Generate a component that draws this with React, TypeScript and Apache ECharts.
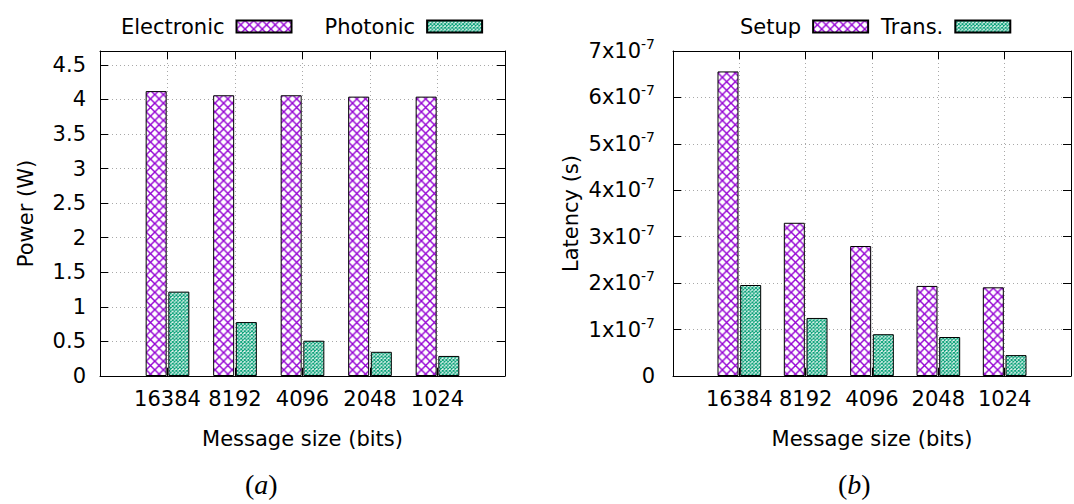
import React, { useEffect, useRef } from 'react';
import * as echarts from 'echarts';

const categories = ['16384', '8192', '4096', '2048', '1024'];
const electronicPower = [4.12, 4.06, 4.06, 4.04, 4.04];
const photonicPower = [1.22, 0.78, 0.51, 0.35, 0.29];
const setupLatency = [6.56e-7, 3.3e-7, 2.8e-7, 1.94e-7, 1.91e-7];
const transLatency = [1.96e-7, 1.25e-7, 0.9e-7, 0.84e-7, 0.45e-7];

const FONT = 'DejaVu Sans';
const PURPLE = '#9400d3';
const GREEN = '#009e73';

function hatch(size: number, color: string, w: number) {
  const svg = `<svg xmlns="http://www.w3.org/2000/svg" width="${size}" height="${size}"><rect width="${size}" height="${size}" fill="#ffffff"/><path d="M0 0L${size} ${size}M${size} 0L0 ${size}" stroke="${color}" stroke-width="${w}" fill="none"/></svg>`;
  return {
    image: 'data:image/svg+xml;charset=utf-8,' + encodeURIComponent(svg),
    repeat: 'repeat',
    imageWidth: size,
    imageHeight: size,
  };
}

const toPoints = (vals: number[]) => vals.map((v, i) => [i + 1, v]);

export default function App() {
  const ref = useRef<HTMLDivElement>(null);
  useEffect(() => {
    if (!ref.current) return;
    const chart = echarts.init(ref.current, null, { renderer: 'svg' });
    const bigPat = hatch(8.6, PURPLE, 1.4);
    const smallPat = hatch(3.6, GREEN, 1.1);

    const gridLine = { show: true, lineStyle: { color: '#a8a8a8', width: 1, type: [1, 3] } };
    const axisLine = { show: true, onZero: false, lineStyle: { color: '#000', width: 1 } };
    const tick = { show: true, inside: true, length: 8, lineStyle: { color: '#000', width: 1 } };
    const labelText = { fontSize: 21, color: '#000', fontFamily: FONT };

    const xAxisBottom = (gridIndex: number) => ({
      type: 'value', gridIndex, min: 0, max: 6, interval: 1, position: 'bottom',
      axisLine, axisTick: tick, splitLine: gridLine,
      axisLabel: { ...labelText, margin: 12, formatter: (v: number) => categories[v - 1] ?? '' },
      name: 'Message size (bits)', nameLocation: 'middle', nameGap: 52,
      nameTextStyle: labelText,
    });
    const xAxisTop = (gridIndex: number) => ({
      type: 'value', gridIndex, min: 0, max: 6, interval: 1, position: 'top',
      axisLine, axisTick: tick, splitLine: { show: false }, axisLabel: { show: false },
    });

    const legendBase = {
      top: 11, align: 'right', itemWidth: 55, itemHeight: 12, icon: 'rect',
      textStyle: { ...labelText, padding: [0, 7, 0, 0] },
      selectedMode: false,
    };

    const option: any = {
      animation: false,
      backgroundColor: '#fff',
      grid: [
        { left: 100, top: 51, width: 405, height: 325 },
        { left: 673, top: 51, width: 405, height: 325 },
      ],
      legend: [
        { ...legendBase, left: 116, itemGap: 32, data: ['Electronic', 'Photonic'] },
        { ...legendBase, left: 735, itemGap: 12, data: ['Setup', 'Trans.'] },
      ],
      xAxis: [xAxisBottom(0), xAxisTop(0), xAxisBottom(1), xAxisTop(1)],
      yAxis: [
        {
          type: 'value', gridIndex: 0, min: 0, max: 4.7, interval: 0.5, position: 'left',
          axisLine, axisTick: tick, splitLine: gridLine,
          axisLabel: { ...labelText, margin: 14, showMaxLabel: false },
          name: 'Power (W)', nameLocation: 'middle', nameGap: 64, nameRotate: 90,
          nameTextStyle: labelText,
        },
        {
          type: 'value', gridIndex: 0, min: 0, max: 4.7, interval: 0.5, position: 'right',
          axisLine, axisTick: tick, splitLine: { show: false }, axisLabel: { show: false },
        },
        {
          type: 'value', gridIndex: 1, min: 0, max: 7e-7, interval: 1e-7, position: 'left',
          axisLine, axisTick: tick, splitLine: gridLine,
          axisLabel: {
            ...labelText, margin: 18,
            formatter: (v: number) => {
              const n = Math.round(v * 1e7);
              return n === 0 ? '{n|0}' : `{n|${n}x10}{s|-7}`;
            },
            rich: {
              n: { fontSize: 21, fontFamily: FONT, color: '#000', lineHeight: 28, verticalAlign: 'middle' },
              s: { fontSize: 14, fontFamily: FONT, color: '#000', lineHeight: 14, verticalAlign: 'top' },
            },
          },
          name: 'Latency (s)', nameLocation: 'middle', nameGap: 92, nameRotate: 90,
          nameTextStyle: labelText,
        },
        {
          type: 'value', gridIndex: 1, min: 0, max: 7e-7, interval: 1e-7, position: 'right',
          axisLine, axisTick: tick, splitLine: { show: false }, axisLabel: { show: false },
        },
      ],
      series: [
        {
          type: 'bar', name: 'Electronic', xAxisIndex: 0, yAxisIndex: 0,
          data: toPoints(electronicPower), barWidth: 21, barGap: '8%',
          itemStyle: { color: bigPat, borderColor: '#000', borderWidth: 1 },
        },
        {
          type: 'bar', name: 'Photonic', xAxisIndex: 0, yAxisIndex: 0,
          data: toPoints(photonicPower), barWidth: 21, barGap: '8%',
          itemStyle: { color: smallPat, borderColor: '#000', borderWidth: 1 },
        },
        {
          type: 'bar', name: 'Setup', xAxisIndex: 2, yAxisIndex: 2,
          data: toPoints(setupLatency), barWidth: 21, barGap: '8%',
          itemStyle: { color: bigPat, borderColor: '#000', borderWidth: 1 },
        },
        {
          type: 'bar', name: 'Trans.', xAxisIndex: 2, yAxisIndex: 2,
          data: toPoints(transLatency), barWidth: 21, barGap: '8%',
          itemStyle: { color: smallPat, borderColor: '#000', borderWidth: 1 },
        },
      ],
      graphic: [
        {
          type: 'text', left: 245, top: 470,
          style: {
            text: '({i|a})', font: '28px "Liberation Serif"', fill: '#000',
            rich: { i: { fontStyle: 'italic', fontSize: 28, fontFamily: 'Liberation Serif' } },
          },
        },
        {
          type: 'text', left: 838, top: 470,
          style: {
            text: '({i|b})', font: '28px "Liberation Serif"', fill: '#000',
            rich: { i: { fontStyle: 'italic', fontSize: 28, fontFamily: 'Liberation Serif' } },
          },
        },
      ],
    };
    chart.setOption(option);
    return () => chart.dispose();
  }, []);
  return (
    <div
      ref={ref}
      style={{ position: 'fixed', left: 0, top: 0, width: 1074, height: 504, background: '#fff' }}
    />
  );
}
